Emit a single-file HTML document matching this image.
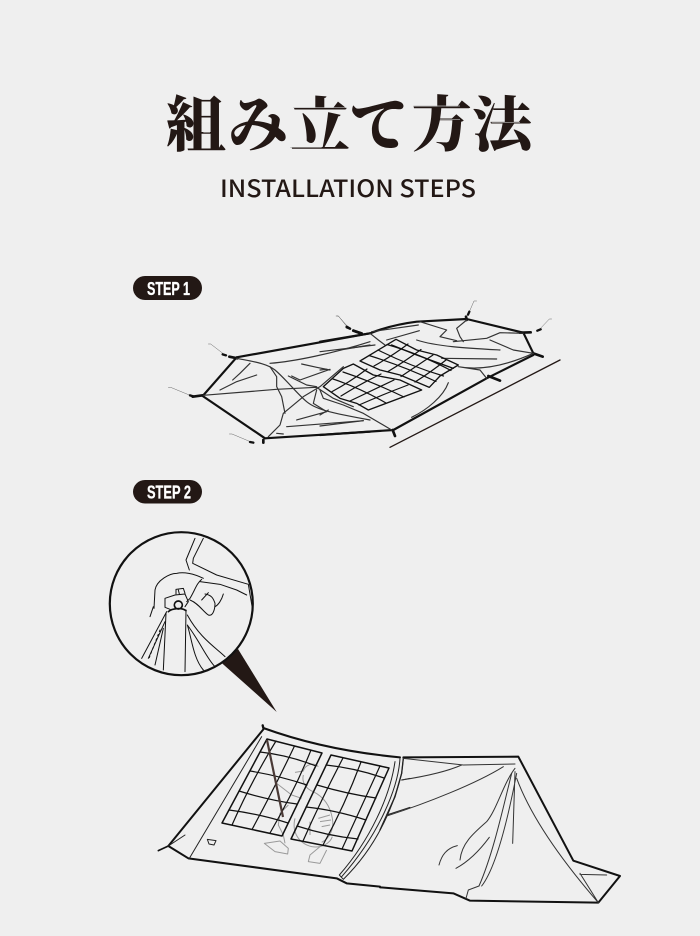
<!DOCTYPE html>
<html lang="ja">
<head>
<meta charset="utf-8">
<title>組み立て方法</title>
<style>
html,body{margin:0;padding:0;background:#efefef;}
svg{display:block;}
.serif{font-family:"Liberation Serif","Noto Serif CJK SC",serif;font-weight:900;font-size:60px;fill:#231815;}
.sub{font-family:"Noto Sans CJK JP","Liberation Sans",sans-serif;font-weight:500;font-size:24px;fill:#231815;}
.step{font-family:"Liberation Sans","Noto Sans CJK JP",sans-serif;font-weight:700;font-size:18px;fill:#fff;stroke:#fff;stroke-width:.3px;}
.k{fill:none;stroke:#111;stroke-linecap:round;stroke-linejoin:round;}
</style>
</head>
<body>
<svg xmlns="http://www.w3.org/2000/svg" width="700" height="936" viewBox="0 0 700 936">
<rect width="700" height="936" fill="#efefef"/>

<!-- Title -->
<text class="serif" x="166" y="146">組</text>
<text class="serif" x="228" y="146">み</text>
<text class="serif" x="290" y="146">立</text>
<text class="serif" x="349" y="146">て</text>
<text class="serif" x="412" y="146">方</text>
<text class="serif" x="472" y="146">法</text>
<g transform="translate(120,80) scale(.33333)" stroke="#bbb" stroke-width="2" fill="none">
<path d="M520,83H680M510,202H605M880,78H1020M960,118H1020M1115,127H1200M250,107H270M250,157H270"/>
</g>
<text class="sub" x="220" y="197" textLength="256" lengthAdjust="spacingAndGlyphs">INSTALLATION STEPS</text>

<!-- Badges -->
<rect x="133" y="276" width="69" height="24" rx="12" fill="#231815"/>
<text class="step" x="147" y="295" textLength="43" lengthAdjust="spacingAndGlyphs">STEP 1</text>
<rect x="133" y="480" width="69" height="23.500" rx="12" fill="#231815"/>
<text class="step" x="147" y="498.500" textLength="44" lengthAdjust="spacingAndGlyphs">STEP 2</text>

<!-- Step 1: left part -->
<g transform="translate(120,270) scale(.33333)" class="k">
<path stroke-width="6.500" d="M350,262L750,190M350,262L248,378M248,378Q340,440 435,505M435,505L750,485"/>
<path stroke-width="8" d="M328,260L352,265M218,380L248,376M430,510L430,518M700,182L722,190"/>
<path stroke-width="1.500" stroke="#666" d="M265,222L272,222L315,255M145,352L152,352L215,378M328,492L336,492L398,518M648,138L655,138L685,175"/>
<path stroke-width="7" d="M308,253L318,256M210,376L220,379M390,516L400,518M680,172L690,176"/>
<g stroke="#333" stroke-width="3.500">
<path d="M350,265C400,275 440,280 465,300C500,330 530,370 560,395C590,420 640,430 750,450"/>
<path d="M670,290L600,350L550,380L490,430L480,465L445,500"/>
<path d="M250,376L470,358L590,352L640,385L700,410"/>
<path d="M450,280C520,275 640,250 750,215M660,240L750,225"/>
<path d="M450,290L470,320L470,350L485,380L495,430"/>
<path d="M545,282L590,292L630,300M515,318L540,330L630,298M505,318L560,345L590,350"/>
<path d="M338,330L360,310L390,280M300,360L350,335L410,315"/>
<path d="M530,450L620,425M500,470L730,452M590,360L580,400L620,425M470,490L490,492"/>
</g>
</g>

<!-- Step 1: right part -->
<g transform="translate(320,290) scale(.33333)" class="k">
<path stroke-width="6.500" d="M0,155L150,130C200,110 250,100 290,95L440,87L610,128L640,190M640,195L500,265L220,420L0,435"/>
<path stroke-width="8" d="M100,122L125,130M600,128L632,127M640,190L668,200M505,258L540,272M218,420L225,438M438,80L440,90"/>
<path stroke-width="1.500" stroke="#666" d="M50,78L55,78L85,112M470,33L462,33L445,72M695,87L688,87L655,122"/>
<path stroke-width="7" d="M80,110L90,116M448,65L444,74M662,118L652,122"/>
<path stroke-width="4" stroke="#231815" d="M720,210L210,472"/>
<g stroke="#333" stroke-width="3.500">
<path d="M150,130L175,150L195,165M155,125L295,105M200,150L298,122"/>
<path d="M290,150C350,170 450,175 540,180M365,205L530,207"/>
<path d="M300,95L380,120L360,140L410,152M440,90L410,115L420,140L430,155"/>
<path d="M400,155L500,145L540,128L610,130M510,150L580,180L640,190"/>
<path d="M415,230C470,240 540,235 640,190M415,230L480,240L500,265"/>
<path d="M385,278C370,320 320,360 275,382"/>
<path d="M0,300L10,325L70,345L130,370L215,420M0,408L130,392M0,375L25,360M0,240L20,238M0,185L165,165"/>
</g>
<g stroke="#111" stroke-width="4">
<path d="M228,148L290,180L350,195L415,225L360,258L328,292L240,255L180,240L120,213Z"/>
<path d="M100,222L160,255L240,270L305,300L145,360L110,340L60,325L10,290L70,235Z"/>
<path d="M215,165L290,195L400,235"/>
</g>
</g>
<!-- Step 1 mat grids -->
<g class="k" stroke="#333" stroke-width="1.200">
<path d="M387,344.500Q420,354 451,370.500M378,350Q410,366 443.500,376M369,355.500Q403,366 436,381.500"/>
<path d="M408,344Q392,356 374,366M421,349.500Q404,362 388,371.500M433,355Q418,365 401,376.500M446,360Q431,372 415,382"/>
<path d="M343,372Q373,382 404,397M333,379Q360,388 386,403"/>
<path d="M367,369Q350,382 332,391.600M381,374Q360,384 341,396M394,380Q373,390 350,401M408,385Q384,394 359,405"/>
</g>

<!-- Magnifier -->
<polygon points="238,649 221.700,663 276.700,712" fill="#231815"/>
<g transform="translate(100,525) scale(.33333)" class="k" stroke-width="3" stroke="#222">
<path d="M285,40L258,105L268,135M310,40L280,100L278,115L350,150L445,178L458,255"/>
<path d="M300,170L360,178L410,195L440,210"/>
<path d="M200,260L125,400M195,290L145,400M190,310L165,420"/>
<path d="M262,300C275,340 280,400 310,435M262,300C300,350 320,400 345,425M262,270C300,340 350,370 375,395"/>
<path stroke-dasharray="5 9" d="M180,315L145,405"/>
<path d="M198,265L190,435M258,255L255,440"/>
</g>
<g transform="translate(140,570) scale(.33333)" class="k" stroke-width="3" stroke="#222">
<path d="M42,115L45,60C50,30 90,10 110,10C130,5 160,10 190,25"/>
<path d="M40,110L30,140"/>
<path d="M185,28C170,40 165,60 150,85L140,95"/>
<path d="M150,90C175,100 190,125 205,135C220,140 225,115 225,100C220,85 215,75 195,72"/>
<path d="M205,68L185,90M250,72C245,90 235,105 225,110"/>
<path d="M75,112L75,85L105,75L135,72L145,95L135,110M75,112L90,118"/>
<path d="M108,72L108,58L130,55L135,70M115,60L118,72"/>
<circle cx="115" cy="105" r="12" stroke-width="5"/>
<path stroke-width="5" d="M85,125C95,115 125,112 138,122"/>
</g>
<circle cx="181.300" cy="603.700" r="71.500" fill="none" stroke="#111" stroke-width="2.200"/>

<!-- Step 2: figure -->
<g transform="translate(255,755) scale(.33333)" fill="none" stroke="#9a9a9a" stroke-width="3" stroke-linejoin="round">
<path d="M120,52L145,48C150,30 175,20 190,35"/>
<path d="M145,60C140,80 150,100 175,110C205,125 225,150 232,190C238,220 225,250 200,262"/>
<path d="M65,85L110,120L140,130"/>
<path d="M100,150L75,175L70,210L85,240L90,265"/>
<path d="M28,265L75,258L100,280L98,297L60,290Z"/>
<path d="M195,275L165,300L160,320L195,325L215,285"/>
<path d="M120,190C110,230 130,265 170,275C200,280 225,265 232,245"/>
<path d="M190,190L225,180M195,200L228,195M200,215L225,210M165,200L165,240"/>
</g>

<!-- Step 2: windows -->
<g class="k" stroke="#222" stroke-width="1.200">
<path d="M260,752Q288,755 316,766M250,771Q280,776 307,785M239,791Q268,800 297,804M229,810Q260,814 288,823"/>
<path d="M276,741Q252,780 232,825M294.500,746Q276,785 252,829.500M311,750Q295,790 270,833"/>
<path d="M326,765Q355,768 384,778M317,785Q347,794 376,798M306,807Q335,810 366,820M297,826Q328,836 358,839"/>
<path d="M343,758Q322,798 303,841M361,762Q345,805 323,845M380,766Q362,805 342,849"/>
</g>
<g class="k" stroke="#111" stroke-width="1.500">
<path d="M267,739L322,753L282,836L222,823Z"/>
<path d="M331,755L389,768L352,851L291,839Z"/>
</g>
<line x1="267" y1="740" x2="283" y2="817" stroke="#4a3a36" stroke-width="2.200"/>

<!-- Step 2: tent left -->
<g transform="translate(150,720) scale(.33333)" class="k">
<path stroke-width="6" d="M340,24C480,75 620,100 750,112M340,28L55,378L115,415L560,475L590,490L690,500"/>
<path stroke-width="5" d="M55,378L25,392"/>
<path stroke-width="7" d="M338,16L340,24"/>
<g stroke-width="3" stroke="#222">
<path d="M335,50L118,415M55,378L105,345"/>
<path d="M735,125C720,230 660,360 568,465L580,478C680,380 730,260 755,160L760,115M750,115C745,200 690,340 575,470"/>
<path d="M172,358L198,362L192,375L177,372Z"/>
<path d="M755,180L780,175M710,285L780,262"/>
</g>
</g>

<!-- Step 2: tent right -->
<g transform="translate(380,740) scale(.33333)" class="k">
<path stroke-width="6" d="M70,52L415,50L580,362L720,408L655,488L270,482L220,460L0,442"/>
<path stroke-width="4" stroke="#222" d="M70,55L65,100L45,170L0,270"/>
<g stroke-width="3" stroke="#333">
<path d="M70,55L250,75L405,72M65,120C130,110 200,95 245,75M20,228C140,190 290,130 370,80"/>
<path d="M405,85C370,130 350,210 320,245C280,280 245,310 240,360"/>
<path d="M328,292C300,330 265,365 228,385M232,317C200,325 185,345 177,375"/>
<path d="M405,95L398,310M395,100C370,200 340,340 297,438M410,100C385,230 350,380 305,438"/>
<path d="M297,438L265,450L258,475"/>
<path d="M410,115C460,250 570,390 655,488M600,403L680,405M600,400L655,488"/>
</g>
</g>
</svg>
</body>
</html>
